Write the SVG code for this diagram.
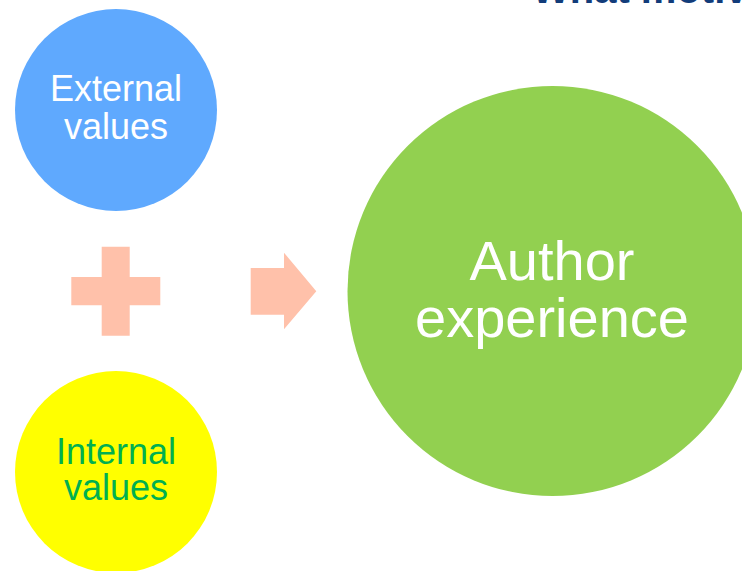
<svg xmlns="http://www.w3.org/2000/svg" width="742" height="571" viewBox="0 0 742 571">
  <style>
    text { font-family: "Liberation Sans", Arial, sans-serif; text-anchor: middle; }
    .small { font-size: 36px; }
    .big { font-size: 56px; fill: #FFFFFF; }
    .white { fill: #FFFFFF; }
    .green { fill: #00B050; }
    .sym { fill: #FFC1AA; }
  </style>
  <rect x="0" y="0" width="742" height="571" fill="#FFFFFF"/>
  <text x="532" y="3" style="text-anchor:start;font-size:40px;font-weight:bold;fill:#123C7A">What motivates authors?</text>
  <g id="external">
    <circle cx="116" cy="110" r="101" fill="#5FA9FE"/>
    <text class="small white" x="116" y="101">External</text>
    <text class="small white" x="116" y="139">values</text>
  </g>
  <g id="internal">
    <circle cx="116" cy="472" r="101" fill="#FFFF00"/>
    <text class="small green" x="116" y="464">Internal</text>
    <text class="small green" x="116" y="500">values</text>
  </g>
  <g id="author">
    <circle cx="552.5" cy="291" r="205" fill="#92D050"/>
    <text class="big" x="552" y="280">Author</text>
    <text class="big" x="552" y="337">experience</text>
  </g>
  <g id="connectors">
    <path class="sym" d="M101.7,246.7 H129.7 V277 H160.3 V305.3 H129.7 V335.7 H101.7 V305.3 H71.3 V277 H101.7 Z"/>
    <path class="sym" d="M250.7,268 H284 V252.7 L316.3,291.3 L284,329.3 V314.7 H250.7 Z"/>
  </g>
</svg>
